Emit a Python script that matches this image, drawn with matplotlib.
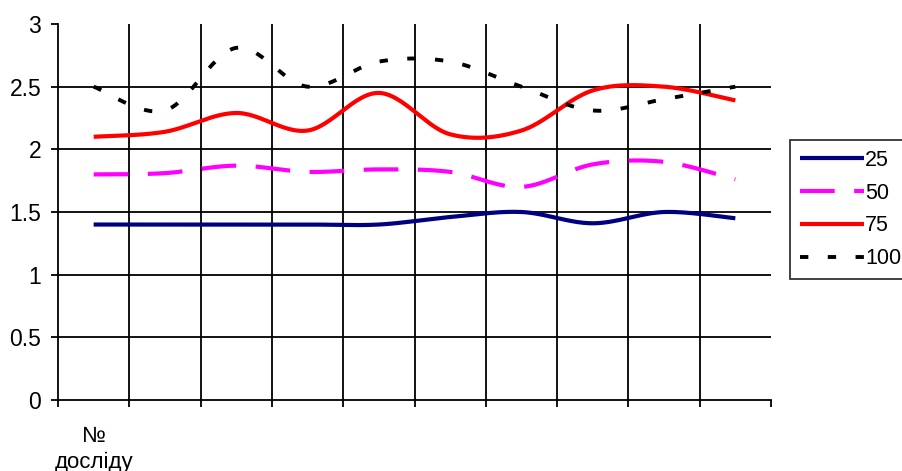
import matplotlib
matplotlib.use('Agg')
import matplotlib.pyplot as plt
import numpy as np

plt.rcParams['font.family'] = ['Liberation Sans', 'DejaVu Sans']
plt.rcParams['lines.scale_dashes'] = False

# значення по дослідах (10 дослідів) для чотирьох серій
labels = ['25', '50', '75', '100']
s25 = [1.40, 1.40, 1.40, 1.40, 1.40, 1.46, 1.50, 1.41, 1.50, 1.45]
s50 = [1.80, 1.81, 1.87, 1.82, 1.84, 1.82, 1.70, 1.88, 1.90, 1.76]
s75 = [2.10, 2.14, 2.29, 2.15, 2.45, 2.12, 2.15, 2.47, 2.50, 2.39]
s100 = [2.50, 2.31, 2.81, 2.50, 2.70, 2.70, 2.50, 2.31, 2.40, 2.50]
xlabel = '№\nдосліду'

colors = ['#000080', '#ff00ff', '#ff0000', '#000000']
styles = [(None, None), (0, (25, 14)), (None, None), (0, (6, 14))]
widths = [3.0, 3.0, 3.0, 2.8]


def smooth(y, n=30):
    # згладжування як у Excel: кубічні криві Безьє через точки
    y = np.asarray(y, float)
    x = np.arange(len(y)) + 0.5
    p = np.column_stack([x, y])
    ext = np.vstack([p[0], p, p[-1]])
    t = np.linspace(0, 1, n)[:, None]
    out = []
    for i in range(len(p) - 1):
        p0, p3 = p[i], p[i + 1]
        c1 = p0 + (ext[i + 2] - ext[i]) / 6
        c2 = p3 - (ext[i + 3] - ext[i + 1]) / 6
        seg = ((1 - t) ** 3) * p0 + 3 * ((1 - t) ** 2) * t * c1 + 3 * (1 - t) * t ** 2 * c2 + t ** 3 * p3
        out.append(seg if i == 0 else seg[1:])
    out = np.vstack(out)
    return out[:, 0], out[:, 1]


fig = plt.figure(figsize=(9.03, 4.71), dpi=100)
ax = fig.add_axes([58 / 903, 1 - 400 / 471, 713 / 903, 376 / 471])

# сітка: вертикальні лінії між дослідами, горизонтальні через 0.5
ax.vlines(np.arange(1, 10), 0, 3, color='black', lw=1.3, zorder=1)
ax.hlines(np.arange(0.5, 2.6, 0.5), 0, 10, color='black', lw=1.3, zorder=1)

for s, c, ls, lw, lab in zip([s25, s50, s75, s100], colors, styles, widths, labels):
    xs, ys = smooth(s)
    if ls[0] is None:
        ax.plot(xs, ys, color=c, lw=lw, label=lab, solid_capstyle='butt', zorder=3)
    else:
        ax.plot(xs, ys, color=c, lw=lw, label=lab, linestyle=ls, dash_capstyle='butt', zorder=3)

ax.set_xlim(0, 10)
ax.set_ylim(0, 3)
ax.set_yticks(np.arange(0, 3.01, 0.5))
ax.set_yticklabels(['0', '0.5', '1', '1.5', '2', '2.5', '3'])
ax.set_xticks([0.5])
ax.set_xticklabels([xlabel], linespacing=1.25)
ax.set_xticks(np.arange(0, 11), minor=True)
ax.tick_params(axis='x', which='major', length=0, pad=19, labelsize=16)
ax.tick_params(axis='x', which='minor', length=5, width=1.3, color='black')
ax.tick_params(axis='y', length=5, width=1.3, pad=7, labelsize=16.5)

for sp in ['top', 'right']:
    ax.spines[sp].set_visible(False)
for sp in ['left', 'bottom']:
    ax.spines[sp].set_linewidth(1.3)

leg = ax.legend(loc='upper left', bbox_to_anchor=(790 / 903, 1 - 140 / 471),
                bbox_transform=fig.transFigure, frameon=True, fancybox=False,
                fontsize=15.5, handlelength=3.0, handletextpad=0.05,
                labelspacing=0.55, borderpad=0.45, borderaxespad=0)
leg.get_frame().set_edgecolor('black')
leg.get_frame().set_linewidth(1.3)

fig.savefig('out.png', dpi=100)
